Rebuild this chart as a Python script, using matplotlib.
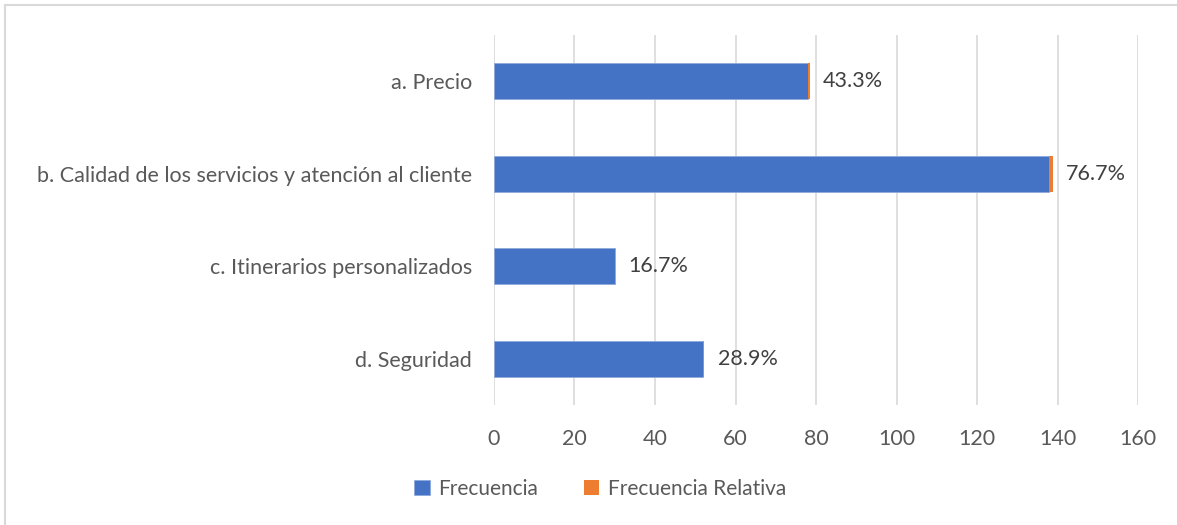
import matplotlib

matplotlib.use("Agg")
import matplotlib.pyplot as plt
from matplotlib.patches import Rectangle

plt.rcParams["font.family"] = ["Lato", "DejaVu Sans"]

categorias = [
    "a. Precio",
    "b. Calidad de los servicios y atención al cliente",
    "c. Itinerarios personalizados",
    "d. Seguridad",
]
frecuencia = [78, 138, 30, 52]
frecuencia_relativa = [0.433, 0.767, 0.167, 0.289]
ticks_x = [0, 20, 40, 60, 80, 100, 120, 140, 160]

color_azul = "#4472C4"
color_naranja = "#ED7D31"
color_texto = "#595959"

fig = plt.figure(figsize=(11.77, 5.25), dpi=100)
ax = fig.add_axes([0.4197, 0.2286, 0.5472, 0.7047])

y = list(range(len(categorias)))
ax.barh(y, frecuencia, height=0.39, color=color_azul, edgecolor="#8FAADC",
        linewidth=0.6, label="Frecuencia", zorder=3)
ax.barh(y, frecuencia_relativa, left=frecuencia, height=0.39, color=color_naranja,
        linewidth=0, label="Frecuencia Relativa", zorder=3)

for yi, f, r in zip(y, frecuencia, frecuencia_relativa):
    ax.text(f + r + 3.3, yi, f"{r * 100:.1f}%", va="center", ha="left",
            fontsize=15.5, color="#404040")

ax.set_ylim(len(categorias) - 0.5, -0.5)
ax.set_xlim(0, 160)
ax.set_yticks(y)
ax.set_yticklabels(categorias, fontsize=15.5, color=color_texto)
ax.set_xticks(ticks_x)
ax.set_xticklabels([str(t) for t in ticks_x], fontsize=15.5, color=color_texto)
ax.tick_params(axis="both", length=0)
ax.tick_params(axis="x", pad=17)
ax.tick_params(axis="y", pad=16)
ax.grid(axis="x", color="#D9D9D9", linewidth=1.2, zorder=0)
for s in ax.spines.values():
    s.set_visible(False)

ax.legend(loc="center", bbox_to_anchor=(600 / 1177, 1 - 489 / 525),
          bbox_transform=fig.transFigure, ncol=2, frameon=False,
          fontsize=15, labelcolor=color_texto, handlelength=0.75,
          handleheight=0.75, handletextpad=0.4, columnspacing=2.2)

# borde del gráfico (sólo se ve arriba y a la izquierda)
fig.patches.append(Rectangle((5 / 1177, -0.1), 1.2, 1.1 - 5 / 525,
                             transform=fig.transFigure, fill=False,
                             edgecolor="#D9D9D9", linewidth=1.5))

fig.savefig("out.png", dpi=100)
